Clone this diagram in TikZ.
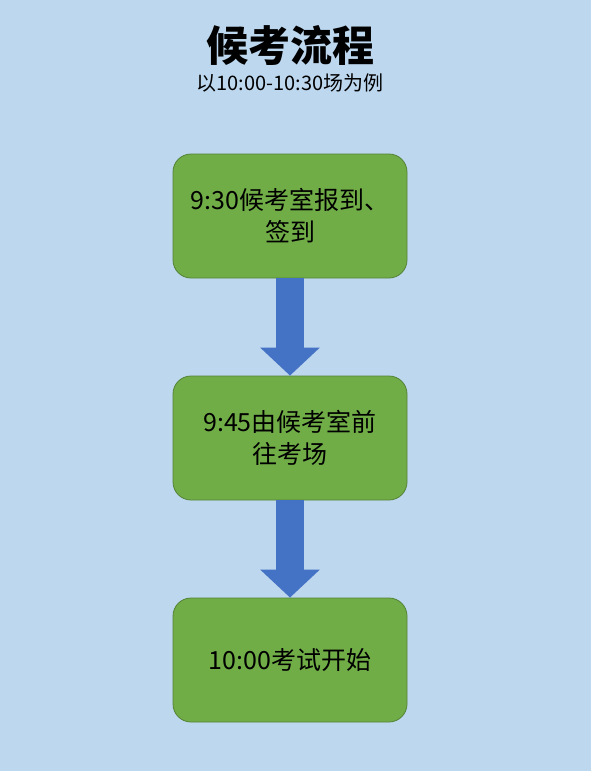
\documentclass[tikz,border=0pt]{standalone}
\usepackage{fontspec}
\setmainfont{Noto Sans CJK SC}
\usetikzlibrary{arrows.meta}

\definecolor{bgblue}{HTML}{BDD7EE}
\definecolor{stepgreen}{HTML}{70AD47}
\definecolor{stepedge}{HTML}{548235}
\definecolor{flowblue}{HTML}{4472C4}

\begin{document}
\begin{tikzpicture}[x=1pt, y=-1pt,
    stepbox/.style = {rectangle, rounded corners=18pt, draw=stepedge, line width=0.8pt,
                      fill=stepgreen, minimum width=234pt, minimum height=124pt,
                      align=center, font=\fontsize{25}{32}\selectfont},
    flow/.style = {draw=flowblue, line width=28pt,
                   -{Triangle[width=58pt, length=28pt]}}]
    \useasboundingbox (0,0) rectangle (591,771);
    \fill [bgblue] (0,0) rectangle (591,771);

    \node (title) at (290,45) {\fontsize{42}{46}\selectfont\bfseries 候考流程};
    \node (sub) at (290,83) {\fontsize{20}{22}\selectfont 以10:00-10:30场为例};

    \node (s1) [stepbox] at (290,216) {9:30候考室报到、\\签到};
    \node (s2) [stepbox] at (290,438) {9:45由候考室前\\往考场};
    \node (s3) [stepbox] at (290,660) {10:00考试开始};

    \draw [flow] (s1.south) -- (s2.north);
    \draw [flow] (s2.south) -- (s3.north);
\end{tikzpicture}
\end{document}
